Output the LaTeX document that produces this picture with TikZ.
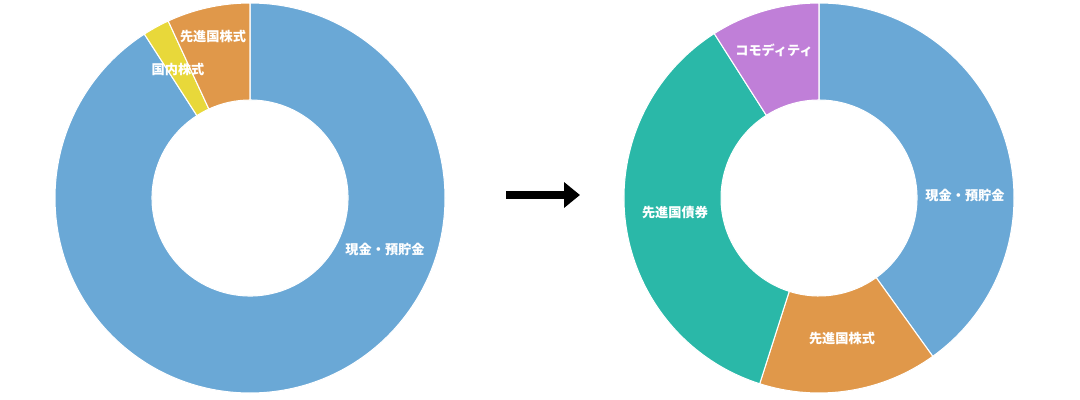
\documentclass[tikz,border=0pt]{standalone}
\usepackage{fontspec}
\usetikzlibrary{positioning,arrows.meta}
\newfontfamily\jpfont{Noto Sans CJK JP}
\definecolor{cashblue}{HTML}{6AA8D6}
\definecolor{stockorange}{HTML}{E0984A}
\definecolor{homeyellow}{HTML}{E8D83A}
\definecolor{bondgreen}{HTML}{2AB8A8}
\definecolor{comdpurple}{HTML}{C07FD8}
\newcommand{\donutslice}[4]{%
	\fill[#4, draw=white, line width=0.6pt, shift={(#1)}] (#2:3.9) arc[start angle=#2, end angle=#3, radius=3.9] -- (#3:1.96) arc[start angle=#3, end angle=#2, radius=1.96] -- cycle;}
\tikzset{
	slicelabel/.style={text=white, font=\jpfont\bfseries\fontsize{7.5}{9}\selectfont, inner sep=1pt},
}

\begin{document}
\begin{tikzpicture}
	\useasboundingbox[fill=white] (0,0) rectangle (21.6,-8);
	\coordinate (L) at (5,-3.96);
	\coordinate (R) at (16.38,-3.96);
	% before
	\donutslice{L}{90}{-237.2}{cashblue}
	\donutslice{L}{122.8}{114.8}{homeyellow}
	\donutslice{L}{114.8}{90}{stockorange}
	\node[slicelabel] (cashL) at (7.7,-5.0) {現金・預貯金};
	\node[slicelabel] (homeL) at (3.56,-1.38) {国内株式};
	\node[slicelabel] (stockL) at (4.26,-0.74) {先進国株式};
	% after
	\donutslice{R}{90}{-54.3}{cashblue}
	\donutslice{R}{-54.3}{-107.7}{stockorange}
	\donutslice{R}{-107.7}{-237.5}{bondgreen}
	\donutslice{R}{122.5}{90}{comdpurple}
	\node[slicelabel] (cashR) at (19.3,-3.92) {現金・預貯金};
	\node[slicelabel] (stockR) at (16.84,-6.76) {先進国株式};
	\node[slicelabel] (bondR) at (13.5,-4.26) {先進国債券};
	\node[slicelabel] (comdR) at (15.48,-1.0) {コモディティ};
	% arrow
	\coordinate (from) at (10.12,-3.9);
	\coordinate (to) at (11.6,-3.9);
	\draw[line width=4.5pt, -{Triangle[length=9pt,width=14pt]}] (from) -- (to);
\end{tikzpicture}
\end{document}
